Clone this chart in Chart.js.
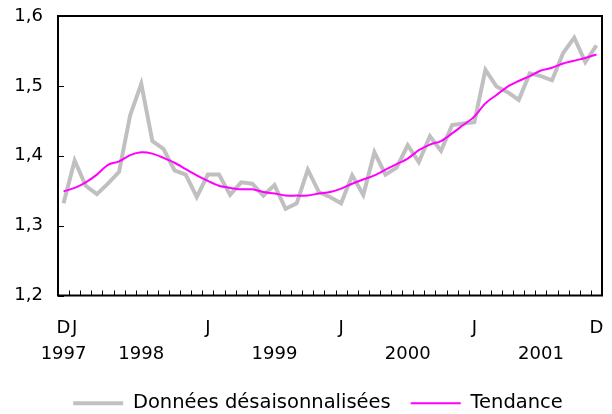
<!DOCTYPE html>
<html>
<head>
<meta charset="utf-8">
<script src="https://cdn.jsdelivr.net/npm/chart.js@4.4.1/dist/chart.umd.min.js"></script>
<style>
  html, body { margin: 0; padding: 0; background: #fff; }
  #wrap { width: 612px; height: 414px; }
</style>
</head>
<body>
<div id="wrap"><canvas id="chart" width="612" height="414"></canvas></div>
<script>
// monthly categories, Dec 1997 .. Dec 2001
const months = [
  '1997-12',
  '1998-01','1998-02','1998-03','1998-04','1998-05','1998-06','1998-07','1998-08','1998-09','1998-10','1998-11','1998-12',
  '1999-01','1999-02','1999-03','1999-04','1999-05','1999-06','1999-07','1999-08','1999-09','1999-10','1999-11','1999-12',
  '2000-01','2000-02','2000-03','2000-04','2000-05','2000-06','2000-07','2000-08','2000-09','2000-10','2000-11','2000-12',
  '2001-01','2001-02','2001-03','2001-04','2001-05','2001-06','2001-07','2001-08','2001-09','2001-10','2001-11','2001-12'
];

const seasAdjusted = [
  1.332,
  1.393, 1.357, 1.345, 1.360, 1.377, 1.458, 1.503, 1.421, 1.410, 1.379, 1.373, 1.341,
  1.373, 1.373, 1.344, 1.362, 1.360, 1.343, 1.358, 1.324, 1.332, 1.380, 1.348, 1.341,
  1.332, 1.372, 1.344, 1.405, 1.373, 1.383, 1.415, 1.391, 1.428, 1.407, 1.444, 1.446,
  1.448, 1.523, 1.499, 1.491, 1.480, 1.518, 1.514, 1.508, 1.547, 1.569, 1.534, 1.558
];

const trend = [
  1.349,
  1.354, 1.362, 1.373, 1.387, 1.392, 1.401, 1.405, 1.403, 1.397, 1.390, 1.381, 1.372,
  1.364, 1.357, 1.354, 1.352, 1.352, 1.348, 1.346, 1.343, 1.343, 1.343, 1.346, 1.348,
  1.353, 1.360, 1.366, 1.372, 1.380, 1.388, 1.396, 1.408, 1.416, 1.421, 1.432, 1.444,
  1.456, 1.475, 1.487, 1.499, 1.507, 1.514, 1.522, 1.526, 1.532, 1.536, 1.540, 1.545
];

// tick labels by category index
const monthMarks = { 0: 'D', 1: 'J', 13: 'J', 25: 'J', 37: 'J', 48: 'D' };
const yearMarks = { 0: '1997', 7: '1998', 19: '1999', 31: '2000', 43: '2001' };

const FONT = 'DejaVu Sans';

// black frame plus inward tick marks, Excel style
const frameTicks = {
  id: 'frameTicks',
  afterLayout(chart) {
    // legend sits a bit right of centre in the original
    chart.legend.left += 17;
    chart.legend.right += 17;
  },
  afterDatasetsDraw(chart) {
    const { ctx, chartArea: a, scales } = chart;
    const x = scales.x, y = scales.y;
    ctx.save();
    ctx.strokeStyle = '#000';
    ctx.lineWidth = 1;
    ctx.beginPath();
    for (let i = 1; i < months.length; i++) {
      const px = Math.round((x.getPixelForValue(i - 1) + x.getPixelForValue(i)) / 2) + 0.5;
      ctx.moveTo(px, a.bottom);
      ctx.lineTo(px, a.bottom - 5);
    }
    y.ticks.forEach(t => {
      const py = Math.round(y.getPixelForValue(t.value)) + 0.5;
      ctx.moveTo(a.left, py);
      ctx.lineTo(a.left + 6, py);
    });
    ctx.stroke();
    ctx.lineWidth = 2;
    ctx.strokeRect(a.left, a.top, a.right - a.left, a.bottom - a.top);
    ctx.restore();
  }
};

new Chart(document.getElementById('chart'), {
  type: 'line',
  data: {
    labels: months,
    datasets: [
      {
        label: 'Données désaisonnalisées',
        data: seasAdjusted,
        borderColor: '#c0c0c0',
        borderWidth: 4,
        pointRadius: 0,
        tension: 0,
        order: 2
      },
      {
        label: 'Tendance',
        data: trend,
        borderColor: '#ff00ff',
        borderWidth: 2,
        pointRadius: 0,
        tension: 0.3,
        order: 1
      }
    ]
  },
  options: {
    responsive: false,
    animation: false,
    layout: { padding: { top: 16, right: 10, left: 0, bottom: -9 } },
    plugins: {
      tooltip: { enabled: false },
      legend: {
        position: 'bottom',
        labels: {
          usePointStyle: true,
          pointStyle: 'line',
          pointStyleWidth: 50,
          color: '#000',
          padding: 20,
          font: { family: FONT, size: 19.5 },
          sort: (a, b) => a.datasetIndex - b.datasetIndex
        }
      }
    },
    scales: {
      x: {
        type: 'category',
        offset: true,
        // invisible tick length used only to push the labels down
        grid: { display: true, drawOnChartArea: false, drawTicks: true, tickLength: 20, color: 'rgba(0,0,0,0)' },
        border: { display: false },
        afterFit: s => { s.height = 78; },
        ticks: {
          autoSkip: false,
          maxRotation: 0,
          minRotation: 0,
          padding: 0,
          color: '#000',
          font: { family: FONT, size: 18, lineHeight: 1.45 },
          callback: (v, i) => [monthMarks[i] || '', yearMarks[i] || '']
        }
      },
      y: {
        min: 1.2,
        max: 1.6,
        grid: { display: true, drawOnChartArea: false, drawTicks: true, tickLength: 15, color: 'rgba(0,0,0,0)' },
        border: { display: false },
        afterFit: s => { s.width = 58; },
        ticks: {
          stepSize: 0.1,
          padding: 0,
          color: '#000',
          font: { family: FONT, size: 18 },
          callback: v => v.toFixed(1).replace('.', ',')
        }
      }
    }
  },
  plugins: [frameTicks]
});
</script>
</body>
</html>
